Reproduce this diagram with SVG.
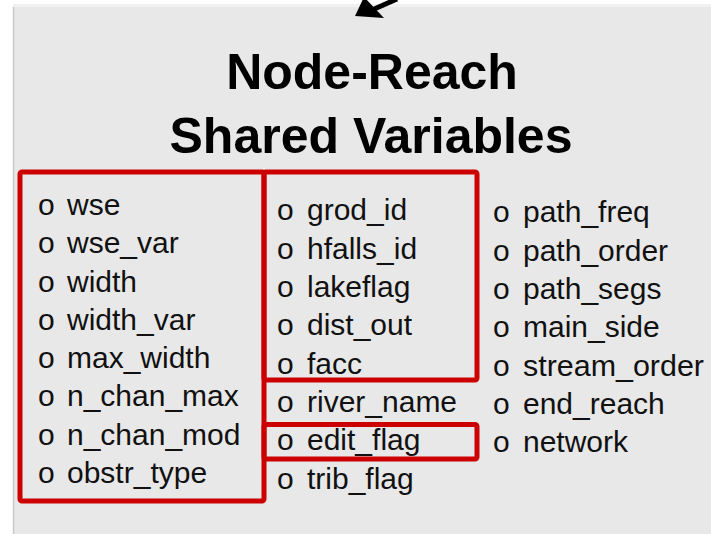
<svg xmlns="http://www.w3.org/2000/svg" width="711" height="534" viewBox="0 0 711 534">
<style>
.item{font-family:"Liberation Sans",Arial,sans-serif;font-size:30px;fill:#111}
.title{font-family:"Liberation Sans",Arial,sans-serif;font-size:50px;font-weight:bold;fill:#000;text-anchor:middle}
.box{fill:none;stroke:#cc0000;stroke-width:5;stroke-linejoin:round}
</style>
<rect x="0" y="0" width="711" height="534" fill="#ffffff"/>
<rect x="13" y="4" width="698" height="4" fill="#f1f1f1"/>
<rect x="13" y="7" width="698" height="527" fill="#e8e8e8"/>
<line x1="13.5" y1="7" x2="13.5" y2="534" stroke="#c9c9c9" stroke-width="1.5"/>
<g id="connectors">
<line x1="397" y1="-1" x2="372" y2="10" stroke="#000" stroke-width="5"/>
<polygon points="355,16 364,-3 384,18" fill="#000"/>
</g>
<g id="title">
<text class="title" x="372" y="89">Node-Reach</text>
<text class="title" x="371" y="153">Shared Variables</text>
</g>
<g id="box-left">
<rect class="box" x="20" y="172" width="244" height="329" rx="2"/>
</g>
<g id="box-mid">
<rect class="box" x="264" y="172" width="213" height="208" rx="2"/>
</g>
<g id="box-edit">
<rect class="box" x="264" y="424.5" width="213" height="34.5" rx="2"/>
</g>
<g id="col1">
<text class="item" x="38" y="215">o</text><text class="item" x="67" y="215">wse</text>
<text class="item" x="38" y="253">o</text><text class="item" x="67" y="253">wse_var</text>
<text class="item" x="38" y="291.5">o</text><text class="item" x="67" y="291.5">width</text>
<text class="item" x="38" y="330">o</text><text class="item" x="67" y="330">width_var</text>
<text class="item" x="38" y="368">o</text><text class="item" x="67" y="368">max_width</text>
<text class="item" x="38" y="406">o</text><text class="item" x="67" y="406">n_chan_max</text>
<text class="item" x="38" y="444.5">o</text><text class="item" x="67" y="444.5">n_chan_mod</text>
<text class="item" x="38" y="483">o</text><text class="item" x="67" y="483">obstr_type</text>
</g>
<g id="col2">
<text class="item" x="277" y="220">o</text><text class="item" x="307" y="220">grod_id</text>
<text class="item" x="277" y="258.5">o</text><text class="item" x="307" y="258.5">hfalls_id</text>
<text class="item" x="277" y="297">o</text><text class="item" x="307" y="297">lakeflag</text>
<text class="item" x="277" y="335">o</text><text class="item" x="307" y="335">dist_out</text>
<text class="item" x="277" y="373.5">o</text><text class="item" x="307" y="373.5">facc</text>
<text class="item" x="277" y="412">o</text><text class="item" x="307" y="412">river_name</text>
<text class="item" x="277" y="450">o</text><text class="item" x="307" y="450">edit_flag</text>
<text class="item" x="277" y="488.5">o</text><text class="item" x="307" y="488.5">trib_flag</text>
</g>
<g id="col3">
<text class="item" x="493" y="222">o</text><text class="item" x="523" y="222">path_freq</text>
<text class="item" x="493" y="260.5">o</text><text class="item" x="523" y="260.5">path_order</text>
<text class="item" x="493" y="299">o</text><text class="item" x="523" y="299">path_segs</text>
<text class="item" x="493" y="337">o</text><text class="item" x="523" y="337">main_side</text>
<text class="item" x="493" y="375.5">o</text><text class="item" x="523" y="375.5" textLength="181" lengthAdjust="spacingAndGlyphs">stream_order</text>
<text class="item" x="493" y="414">o</text><text class="item" x="523" y="414">end_reach</text>
<text class="item" x="493" y="452">o</text><text class="item" x="523" y="452">network</text>
</g>
</svg>
